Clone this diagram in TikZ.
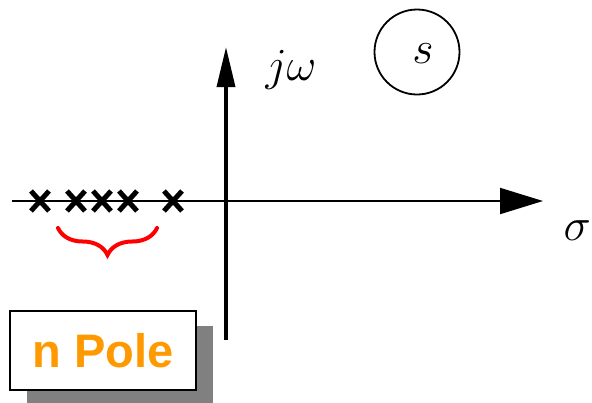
\documentclass[tikz,border=0pt]{standalone}
\usepackage{fix-cm}
\usepackage{fontspec}
\setsansfont{Liberation Sans}
\usepackage{tikz}
\usetikzlibrary{arrows.meta, positioning, shapes.misc, shadows, decorations.pathreplacing}

\definecolor{poleorange}{RGB}{255,153,0}
\tikzset{
  pole/.style={cross out, draw, line width=5pt, minimum width=13pt, minimum height=15pt, inner sep=0pt},
  bigmath/.style={font=\fontsize{46}{50}\selectfont, inner sep=0pt},
}

\begin{document}
\begin{tikzpicture}[x=1pt, y=-1pt, >=Triangle]
  \useasboundingbox (0,0) rectangle (592,402);
  % Axes
  \coordinate (xl) at (12,201);
  \coordinate (xr) at (543,201);
  \coordinate (yb) at (226,340);
  \coordinate (yt) at (226,47);
  \draw[line width=2pt, -{Triangle[length=43pt, width=26pt]}] (xl) -- (xr);
  \draw[line width=3.5pt, -{Triangle[length=40pt, width=18pt]}] (yb) -- (yt);
  \node[bigmath, anchor=base east] (sigma) at (591,240) {$\sigma$};
  \node[bigmath, anchor=base] (jw) at (291,80) {$j\omega$};
  % s-plane mark
  \node[circle, draw, line width=1.8pt, minimum size=85pt] (plane) at (417,52) {};
  \node[bigmath, anchor=base] (s) at (423,63) {$s$};
  % Poles on the real axis
  \foreach \px [count=\i] in {40,76,102,128,173}
    \node[pole] (p\i) at (\px,201) {};
  % Brace under the pole group
  \coordinate (bl) at (58,228);
  \coordinate (br) at (157,228);
  \draw[red, line width=4pt, line cap=round, decorate,
        decoration={brace, mirror, amplitude=27pt}] (bl) -- (br);
  % Label box
  \node[draw, line width=1.5pt, fill=white, minimum width=186pt, minimum height=79pt,
        drop shadow={shadow xshift=17pt, shadow yshift=-15pt, fill=gray, opacity=1},
        font=\sffamily\bfseries\fontsize{47}{50}\selectfont, text=poleorange]
        (npole) at (103,350.5) {n Pole};
\end{tikzpicture}
\end{document}
